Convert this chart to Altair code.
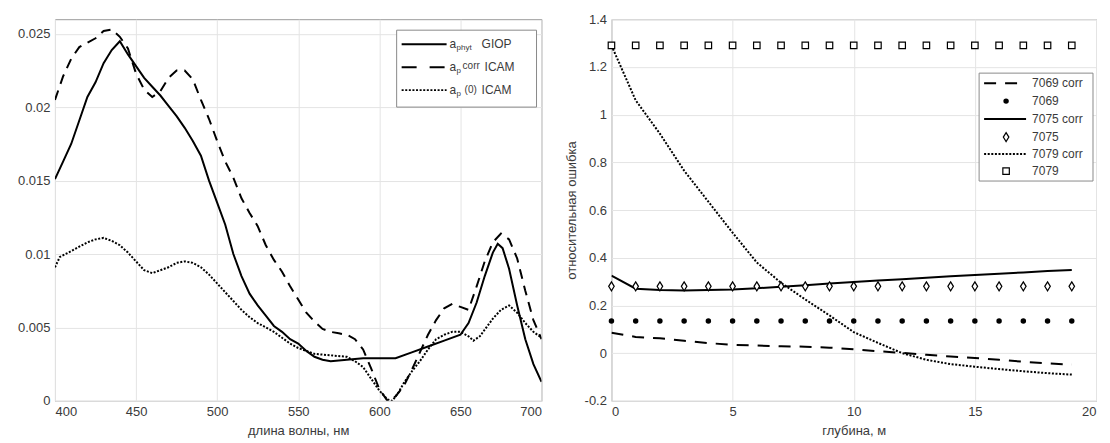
import altair as alt
import pandas as pd

FONT = "Liberation Sans"
TXT = "#3a3a3a"

# ---------------- left panel data ----------------
giop_wl = [400, 405, 410, 415, 420, 425, 430, 435, 440, 445, 450, 455, 460, 465, 470, 475, 480,
           485, 490, 495, 500, 505, 510, 515, 520, 525, 530, 535, 540, 545, 550, 555, 560, 565,
           570, 580, 590, 600, 610, 620, 630, 640, 650, 655, 660, 665, 670, 673, 676, 680, 685,
           690, 695, 700]
giop_val = [0.0151, 0.0163, 0.0175, 0.0191, 0.0207, 0.0217, 0.0230, 0.0239, 0.0245, 0.0236,
            0.0228, 0.0220, 0.0214, 0.0208, 0.0201, 0.0194, 0.0186, 0.0177, 0.0167, 0.0150,
            0.0135, 0.0120, 0.0100, 0.0085, 0.0073, 0.0065, 0.0058, 0.0051, 0.0047, 0.0042,
            0.0039, 0.0034, 0.0030, 0.0028, 0.0027, 0.0028, 0.0029, 0.0029, 0.0029, 0.0033,
            0.0037, 0.0041, 0.0045, 0.0053, 0.0067, 0.0085, 0.0101, 0.0107, 0.0104, 0.0090,
            0.0065, 0.0042, 0.0025, 0.0013]

corr_wl = [400, 405, 410, 415, 420, 425, 430, 435, 440, 445, 450, 455, 460, 465, 470, 475, 480,
           485, 490, 495, 500, 505, 510, 515, 520, 525, 530, 535, 540, 545, 550, 555, 560, 565,
           570, 575, 580, 585, 590, 595, 600, 605, 610, 615, 620, 625, 630, 635, 640, 645, 650,
           655, 660, 665, 670, 675, 680, 685, 690, 695, 700]
corr_val = [0.0205, 0.0221, 0.0233, 0.0241, 0.0244, 0.0247, 0.0252, 0.0253, 0.0248, 0.0240,
            0.0223, 0.0212, 0.0207, 0.0211, 0.0220, 0.0225, 0.0225, 0.0219, 0.0205, 0.0192,
            0.0177, 0.0163, 0.0152, 0.0138, 0.0128, 0.0119, 0.0106, 0.0096, 0.0088, 0.0078,
            0.0069, 0.0060, 0.0054, 0.0049, 0.0047, 0.0046, 0.0045, 0.0042, 0.0035, 0.0022,
            0.0008, 0.0000, 0.0003, 0.0010, 0.0021, 0.0033, 0.0045, 0.0055, 0.0063, 0.0066,
            0.0064, 0.0062, 0.0078, 0.0095, 0.0108, 0.0114, 0.0110, 0.0097, 0.0075, 0.0055,
            0.0042]

ap0_wl = [400, 403, 410, 415, 420, 425, 430, 435, 440, 445, 450, 455, 460, 465, 470, 475, 480,
          485, 490, 495, 500, 505, 510, 515, 520, 525, 530, 535, 540, 545, 550, 555, 560, 570,
          580, 585, 590, 595, 600, 605, 608, 612, 615, 620, 625, 630, 635, 640, 645, 650, 655,
          658, 662, 666, 670, 675, 680, 685, 690, 695, 700]
ap0_val = [0.0091, 0.0098, 0.0102, 0.0105, 0.0108, 0.0110, 0.0111, 0.0109, 0.0106, 0.0101,
           0.0095, 0.0089, 0.0087, 0.0089, 0.0091, 0.0094, 0.0095, 0.0094, 0.0091, 0.0086,
           0.0080, 0.0074, 0.0068, 0.0062, 0.0057, 0.0053, 0.0050, 0.0047, 0.0043, 0.0039,
           0.0036, 0.0034, 0.0032, 0.0031, 0.0030, 0.0027, 0.0023, 0.0015, 0.0007, 0.0001,
           0.0000, 0.0006, 0.0012, 0.0020, 0.0027, 0.0035, 0.0042, 0.0045, 0.0047, 0.0047,
           0.0044, 0.0041, 0.0044, 0.0050, 0.0056, 0.0062, 0.0065, 0.0060, 0.0053, 0.0047,
           0.0043]

left_xticks = [400, 450, 500, 550, 600, 650, 700]
left_yticks = [0, 0.005, 0.01, 0.015, 0.02, 0.025]

# ---------------- right panel data ----------------
depth = [0, 1, 2, 3, 4, 5, 6, 7, 8, 9, 10, 11, 12, 13, 14, 15, 16, 17, 18, 19]
s7069_corr = [0.085, 0.068, 0.062, 0.052, 0.042, 0.035, 0.032, 0.029, 0.027, 0.023,
              0.016, 0.008, 0.001, -0.007, -0.014, -0.020, -0.028, -0.036, -0.043, -0.048]
s7069 = [0.135, 0.135, 0.135, 0.135, 0.135, 0.135, 0.135, 0.135, 0.135, 0.135,
         0.135, 0.135, 0.135, 0.135, 0.135, 0.135, 0.135, 0.135, 0.135, 0.135]
s7075_corr = [0.325, 0.270, 0.265, 0.263, 0.265, 0.267, 0.272, 0.278, 0.285, 0.292,
              0.298, 0.305, 0.310, 0.316, 0.322, 0.328, 0.333, 0.338, 0.344, 0.349]
s7075 = [0.280, 0.280, 0.280, 0.280, 0.280, 0.280, 0.280, 0.280, 0.280, 0.280,
         0.280, 0.280, 0.280, 0.280, 0.280, 0.280, 0.280, 0.280, 0.280, 0.280]
s7079_corr = [1.290, 1.060, 0.920, 0.765, 0.635, 0.505, 0.380, 0.295, 0.225, 0.158,
              0.088, 0.043, 0.000, -0.028, -0.046, -0.057, -0.067, -0.076, -0.084, -0.090]
s7079 = [1.290, 1.290, 1.290, 1.290, 1.290, 1.290, 1.290, 1.290, 1.290, 1.290,
         1.290, 1.290, 1.290, 1.290, 1.290, 1.290, 1.290, 1.290, 1.290, 1.290]

right_xticks = [0, 5, 10, 15, 20]
right_yticks = [-0.2, 0, 0.2, 0.4, 0.6, 0.8, 1, 1.2, 1.4]

LW, LH = 487, 382
RW, RH = 485, 382

one = pd.DataFrame({"k": [0]})


def lrule(x1, x2, y, dash=None, width=2.0):
    kw = dict(color="black", strokeWidth=width)
    if dash:
        kw["strokeDash"] = dash
    return alt.Chart(one).mark_rule(**kw).encode(
        x=alt.value(x1), x2=alt.value(x2), y=alt.value(y))


def ltext(x, y, s, size=12, dy=0):
    return alt.Chart(one).mark_text(
        text=s, align="left", baseline="middle", fontSize=size, font=FONT,
        color=TXT, dy=dy).encode(x=alt.value(x), y=alt.value(y))


def lbox(x1, x2, y1, y2):
    return alt.Chart(one).mark_rect(fill="white", stroke="#8a8a8a", strokeWidth=1).encode(
        x=alt.value(x1), x2=alt.value(x2), y=alt.value(y1), y2=alt.value(y2))


def lpoint(x, y, shape, filled, size, sw=1.2):
    kw = dict(shape=shape, size=size, strokeWidth=sw, color="black", opacity=1)
    if filled:
        kw.update(filled=True, fill="black")
    else:
        kw.update(filled=False, fill="white", fillOpacity=1)
    return alt.Chart(one).mark_point(**kw).encode(x=alt.value(x), y=alt.value(y))


# ---------------- left chart ----------------
lx = alt.X("wl:Q", scale=alt.Scale(domain=[400, 700], nice=False),
           axis=alt.Axis(values=left_xticks, title="длина волны, нм", format="d"))
ly = alt.Y("v:Q", scale=alt.Scale(domain=[0, 0.026], nice=False),
           axis=alt.Axis(values=left_yticks, title=None,
                         labelExpr="format(datum.value, '~g')"))


def lline(wl, val, dash=None):
    df = pd.DataFrame({"wl": wl, "v": val})
    kw = dict(color="black", strokeWidth=2, clip=True)
    if dash:
        kw["strokeDash"] = dash
    return alt.Chart(df).mark_line(**kw).encode(x=lx, y=ly)


left_layers = [
    lline(giop_wl, giop_val),
    lline(corr_wl, corr_val, [10, 7]),
    lline(ap0_wl, ap0_val, [2, 1.6]),
    lbox(342, 482, 11, 88),
    lrule(347, 392, 25),
    lrule(347, 392, 48, [15, 13]),
    lrule(347, 392, 71, [2, 1.6]),
    ltext(395, 25, "a"), ltext(402, 25, "phyt", size=8, dy=4), ltext(427, 25, "GIOP"),
    ltext(395, 48, "a"), ltext(402, 48, "p", size=8, dy=4), ltext(408, 48, "corr", size=10, dy=-1),
    ltext(430, 48, "ICAM"),
    ltext(395, 71, "a"), ltext(402, 71, "p", size=8, dy=4), ltext(410, 71, "(0)", size=10),
    ltext(427, 71, "ICAM"),
]
left = alt.layer(*left_layers).properties(width=LW, height=LH)

# ---------------- right chart ----------------
rdf = pd.DataFrame({
    "d": depth, "c7069": s7069_corr, "p7069": s7069, "c7075": s7075_corr,
    "p7075": s7075, "c7079": s7079_corr, "p7079": s7079,
})
rx = alt.X("d:Q", scale=alt.Scale(domain=[0, 20], nice=False),
           axis=alt.Axis(values=right_xticks, title="глубина, м", format="d"))


def ry(field):
    return alt.Y(f"{field}:Q", scale=alt.Scale(domain=[-0.2, 1.4], nice=False),
                 axis=alt.Axis(values=right_yticks, title="относительная ошибка",
                               labelExpr="datum.value < 0 ? '-' + format(-datum.value, '~g') : format(datum.value, '~g')"))


DIAMOND = "M0,-1L0.62,0L0,1L-0.62,0Z"

right_layers = [
    alt.Chart(rdf).mark_line(color="black", strokeWidth=2, strokeDash=[12, 9], clip=True).encode(x=rx, y=ry("c7069")),
    alt.Chart(rdf).mark_line(color="black", strokeWidth=2, clip=True).encode(x=rx, y=ry("c7075")),
    alt.Chart(rdf).mark_line(color="black", strokeWidth=2, strokeDash=[2, 1.6], clip=True).encode(x=rx, y=ry("c7079")),
    alt.Chart(rdf).mark_point(shape="circle", filled=True, fill="black", color="black", size=30, opacity=1).encode(x=rx, y=ry("p7069")),
    alt.Chart(rdf).mark_point(shape=DIAMOND, filled=False, fill="white", fillOpacity=1, color="black",
                              strokeWidth=1.2, size=80, opacity=1).encode(x=rx, y=ry("p7075")),
    alt.Chart(rdf).mark_point(shape="square", filled=False, fill="white", fillOpacity=1, color="black",
                              strokeWidth=1.2, size=42, opacity=1).encode(x=rx, y=ry("p7079")),
    lbox(368, 482, 54, 162),
    lrule(373, 415, 64, [12, 9]),
    lpoint(395, 82, "circle", True, 30),
    lrule(373, 415, 100),
    lpoint(395, 118, DIAMOND, False, 80),
    lrule(373, 415, 135, [2, 1.6]),
    lpoint(395, 152, "square", False, 42),
    ltext(421, 64, "7069 corr"),
    ltext(421, 82, "7069"),
    ltext(421, 100, "7075 corr"),
    ltext(421, 118, "7075"),
    ltext(421, 135, "7079 corr"),
    ltext(421, 152, "7079"),
]
right = alt.layer(*right_layers).properties(width=RW, height=RH)

chart = alt.hconcat(left, right, spacing=22).configure(
    padding={"left": 8, "top": 4, "right": 5, "bottom": 5},
    background="white",
).configure_view(stroke="#9a9a9a", strokeWidth=1).configure_axis(
    grid=True, gridColor="#e4e4e4", gridWidth=1, domain=False, ticks=False,
    labelFont=FONT, labelFontSize=13, labelColor=TXT, labelPadding=5,
    titleFont=FONT, titleFontSize=13, titleFontWeight="normal", titleColor=TXT,
    titlePadding=6,
)

chart.save("out.html", embed_options={"renderer": "svg", "actions": False})
